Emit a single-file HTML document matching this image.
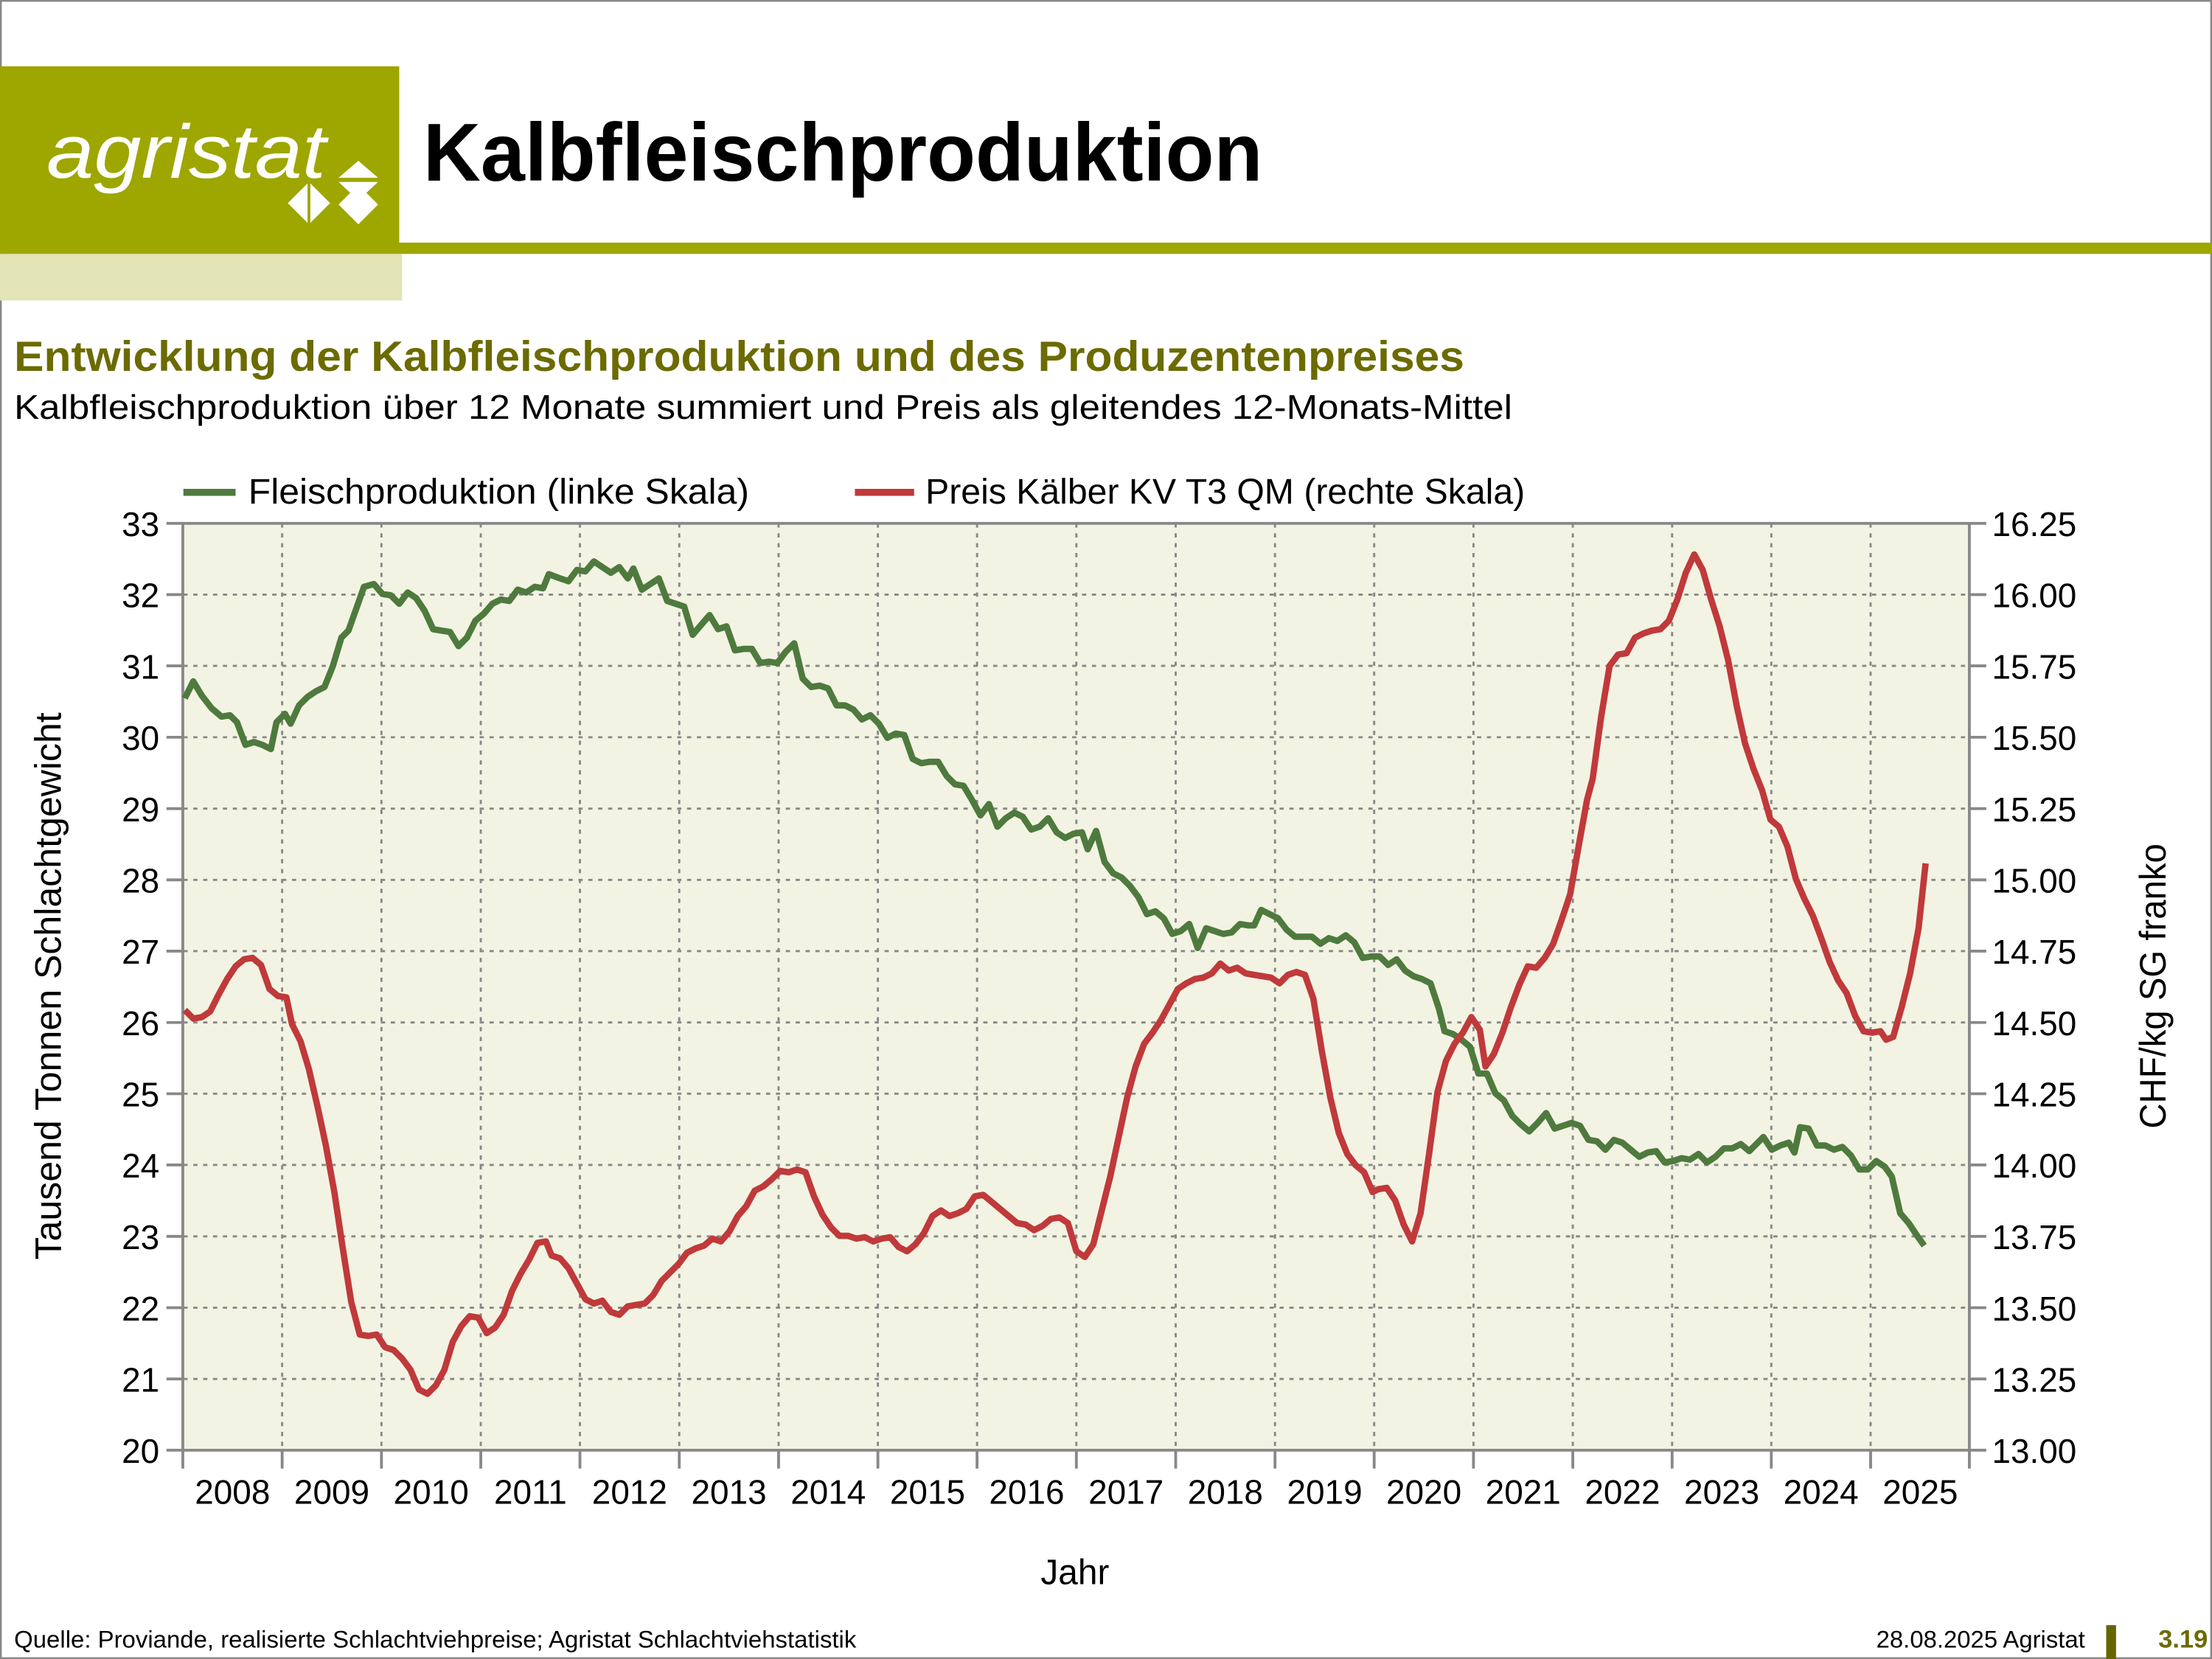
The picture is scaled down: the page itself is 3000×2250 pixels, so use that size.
<!DOCTYPE html>
<html><head><meta charset="utf-8">
<style>
html,body{margin:0;padding:0;background:#fff;}
svg{display:block;}
text{font-family:"Liberation Sans",sans-serif;}
</style></head>
<body>
<svg width="3000" height="2250" viewBox="0 0 1568 1176" xmlns="http://www.w3.org/2000/svg">
<rect x="0" y="0" width="1568" height="1176" fill="#fff"/>
<rect x="0.5" y="0.5" width="1567" height="1175" fill="none" stroke="#888" stroke-width="1.5"/>
<!-- header -->
<rect x="0" y="47" width="283" height="126" fill="#9ea600"/>
<rect x="0" y="172" width="1568" height="8" fill="#9ea600"/>
<rect x="0" y="180" width="285" height="33" fill="#e2e4b6"/>
<text x="33" y="126" font-size="54" font-style="italic" fill="#fff" textLength="198" lengthAdjust="spacingAndGlyphs">agristat</text>
<polygon points="254,114 268,126 240,126" fill="#fff"/>
<polygon points="240,129 268,129 254,142" fill="#fff"/>
<polygon points="204,144 218,130 218,158" fill="#fff"/>
<polygon points="220,130 234,144 220,158" fill="#fff"/>
<polygon points="254,131 268,145 254,159 240,145" fill="#fff"/>
<text x="300" y="128" font-size="58" font-weight="bold" fill="#000" textLength="595" lengthAdjust="spacingAndGlyphs">Kalbfleischproduktion</text>
<text x="10" y="263" font-size="30" font-weight="bold" fill="#6b6b00" textLength="1028" lengthAdjust="spacingAndGlyphs">Entwicklung der Kalbfleischproduktion und des Produzentenpreises</text>
<text x="10" y="297" font-size="24" fill="#000" textLength="1062" lengthAdjust="spacingAndGlyphs">Kalbfleischproduktion über 12 Monate summiert und Preis als gleitendes 12-Monats-Mittel</text>
<!-- legend -->
<line x1="130" y1="349" x2="167" y2="349" stroke="#4e7a3e" stroke-width="5"/>
<text x="176" y="357" font-size="25" textLength="355" lengthAdjust="spacingAndGlyphs">Fleischproduktion (linke Skala)</text>
<line x1="606" y1="349" x2="648" y2="349" stroke="#c0393b" stroke-width="5"/>
<text x="656" y="357" font-size="25" textLength="425" lengthAdjust="spacingAndGlyphs">Preis Kälber KV T3 QM (rechte Skala)</text>
<!-- plot -->
<rect x="129.6" y="371" width="1266.4" height="657" fill="#f3f3e3"/>
<g stroke="#888" stroke-width="1.5" stroke-dasharray="3,4">
<line x1="130" x2="1396" y1="421.5" y2="421.5"/><line x1="130" x2="1396" y1="472" y2="472"/><line x1="130" x2="1396" y1="522.6" y2="522.6"/><line x1="130" x2="1396" y1="573.2" y2="573.2"/><line x1="130" x2="1396" y1="623.7" y2="623.7"/><line x1="130" x2="1396" y1="674.2" y2="674.2"/><line x1="130" x2="1396" y1="724.8" y2="724.8"/><line x1="130" x2="1396" y1="775.3" y2="775.3"/><line x1="130" x2="1396" y1="825.8" y2="825.8"/><line x1="130" x2="1396" y1="876.4" y2="876.4"/><line x1="130" x2="1396" y1="927" y2="927"/><line x1="130" x2="1396" y1="977.5" y2="977.5"/>
<line y1="371" y2="1028" x1="200" x2="200"/><line y1="371" y2="1028" x1="270.4" x2="270.4"/><line y1="371" y2="1028" x1="340.8" x2="340.8"/><line y1="371" y2="1028" x1="411.1" x2="411.1"/><line y1="371" y2="1028" x1="481.5" x2="481.5"/><line y1="371" y2="1028" x1="551.9" x2="551.9"/><line y1="371" y2="1028" x1="622.3" x2="622.3"/><line y1="371" y2="1028" x1="692.6" x2="692.6"/><line y1="371" y2="1028" x1="763" x2="763"/><line y1="371" y2="1028" x1="833.4" x2="833.4"/><line y1="371" y2="1028" x1="903.8" x2="903.8"/><line y1="371" y2="1028" x1="974.1" x2="974.1"/><line y1="371" y2="1028" x1="1044.5" x2="1044.5"/><line y1="371" y2="1028" x1="1114.9" x2="1114.9"/><line y1="371" y2="1028" x1="1185.3" x2="1185.3"/><line y1="371" y2="1028" x1="1255.6" x2="1255.6"/><line y1="371" y2="1028" x1="1326" x2="1326"/>
</g>
<g stroke="#888" stroke-width="2" fill="none">
<rect x="129.6" y="371" width="1266.4" height="657"/>
<path d="M118 371H130M118 421.5H130M118 472H130M118 522.6H130M118 573.2H130M118 623.7H130M118 674.2H130M118 724.8H130M118 775.3H130M118 825.8H130M118 876.4H130M118 927H130M118 977.5H130M118 1028H130"/>
<path d="M1396 371H1408M1396 421.5H1408M1396 472H1408M1396 522.6H1408M1396 573.2H1408M1396 623.7H1408M1396 674.2H1408M1396 724.8H1408M1396 775.3H1408M1396 825.8H1408M1396 876.4H1408M1396 927H1408M1396 977.5H1408M1396 1028H1408"/>
<path d="M129.6 1028V1041M200 1028V1041M270.4 1028V1041M340.8 1028V1041M411.1 1028V1041M481.5 1028V1041M551.9 1028V1041M622.3 1028V1041M692.6 1028V1041M763 1028V1041M833.4 1028V1041M903.8 1028V1041M974.1 1028V1041M1044.5 1028V1041M1114.9 1028V1041M1185.3 1028V1041M1255.6 1028V1041M1326 1028V1041M1396 1028V1041"/>
</g>
<g font-size="24" text-anchor="end">
<text x="113" y="380">33</text><text x="113" y="430.5">32</text><text x="113" y="481">31</text><text x="113" y="531.6">30</text><text x="113" y="582.2">29</text><text x="113" y="632.7">28</text><text x="113" y="683.2">27</text><text x="113" y="733.8">26</text><text x="113" y="784.3">25</text><text x="113" y="834.8">24</text><text x="113" y="885.4">23</text><text x="113" y="936">22</text><text x="113" y="986.5">21</text><text x="113" y="1037">20</text>
</g>
<g font-size="24">
<text x="1412" y="380" textLength="60" lengthAdjust="spacingAndGlyphs">16.25</text><text x="1412" y="430.5" textLength="60" lengthAdjust="spacingAndGlyphs">16.00</text><text x="1412" y="481" textLength="60" lengthAdjust="spacingAndGlyphs">15.75</text><text x="1412" y="531.6" textLength="60" lengthAdjust="spacingAndGlyphs">15.50</text><text x="1412" y="582.2" textLength="60" lengthAdjust="spacingAndGlyphs">15.25</text><text x="1412" y="632.7" textLength="60" lengthAdjust="spacingAndGlyphs">15.00</text><text x="1412" y="683.2" textLength="60" lengthAdjust="spacingAndGlyphs">14.75</text><text x="1412" y="733.8" textLength="60" lengthAdjust="spacingAndGlyphs">14.50</text><text x="1412" y="784.3" textLength="60" lengthAdjust="spacingAndGlyphs">14.25</text><text x="1412" y="834.8" textLength="60" lengthAdjust="spacingAndGlyphs">14.00</text><text x="1412" y="885.4" textLength="60" lengthAdjust="spacingAndGlyphs">13.75</text><text x="1412" y="936" textLength="60" lengthAdjust="spacingAndGlyphs">13.50</text><text x="1412" y="986.5" textLength="60" lengthAdjust="spacingAndGlyphs">13.25</text><text x="1412" y="1037" textLength="60" lengthAdjust="spacingAndGlyphs">13.00</text>
</g>
<g font-size="24" text-anchor="middle">
<text x="164.8" y="1066">2008</text><text x="235.2" y="1066">2009</text><text x="305.6" y="1066">2010</text><text x="376" y="1066">2011</text><text x="446.3" y="1066">2012</text><text x="516.7" y="1066">2013</text><text x="587.1" y="1066">2014</text><text x="657.5" y="1066">2015</text><text x="727.8" y="1066">2016</text><text x="798.2" y="1066">2017</text><text x="868.6" y="1066">2018</text><text x="939" y="1066">2019</text><text x="1009.3" y="1066">2020</text><text x="1079.7" y="1066">2021</text><text x="1150.1" y="1066">2022</text><text x="1220.5" y="1066">2023</text><text x="1290.8" y="1066">2024</text><text x="1361.2" y="1066">2025</text>
<text x="762" y="1123" font-size="25">Jahr</text>
</g>
<text transform="translate(43,893) rotate(-90)" font-size="26" textLength="388" lengthAdjust="spacingAndGlyphs">Tausend Tonnen Schlachtgewicht</text>
<text transform="translate(1535,800) rotate(-90)" font-size="26" textLength="202" lengthAdjust="spacingAndGlyphs">CHF/kg SG franko</text>
<polyline fill="none" stroke="#4e7a3e" stroke-width="4.5" stroke-linejoin="round" points="131,495 137,483 143,493 150,502 157,508 163,507 168,512 174,528 180,526 186,528 192,531 196,512 202,506 206,513 212,500 218,494 224,490 230,487 236,472 242,452 247,447 252,433 258,416 265,414 271,421 277,422 283,428 289,420 295,424 301,433 307,446 313,447 319,448 325,458 331,452 337,440 343,435 349,428 355,425 361,426 367,418 373,420 379,416 385,417 389,407 397,410 403,412 409,404 415,405 421,398 427,402 433,406 439,402 445,410 449,403 455,418 461,414 467,410 473,426 479,428 485,430 491,450 497,443 503,436 509,446 515,444 521,461 527,460 533,460 539,470 545,469 551,470 557,462 563,456 569,481 575,487 581,486 587,488 593,500 599,500 605,503 611,510 617,507 623,513 629,523 635,520 641,521 647,538 653,541 659,540 665,540 671,550 677,556 683,557 689,567 695,578 701,570 707,586 713,580 719,576 725,579 731,588 737,586 743,580 749,590 755,594 761,591 767,590 771,602 777,589 783,611 789,619 795,622 801,628 807,636 813,648 819,646 825,651 831,662 837,660 843,655 849,672 855,658 861,660 867,662 873,661 879,655 885,656 889,656 894,645 900,648 906,651 912,659 918,664 924,664 930,664 936,669 942,665 948,667 954,663 960,668 966,679 972,678 978,678 984,684 990,680 996,688 1002,692 1008,694 1014,697 1020,715 1024,731 1030,733 1036,737 1042,742 1048,761 1054,761 1060,775 1066,780 1072,791 1078,797 1084,802 1090,796 1096,789 1102,800 1108,798 1114,796 1120,798 1126,808 1132,809 1138,815 1144,808 1150,810 1156,815 1162,820 1168,817 1174,816 1180,824 1186,823 1192,821 1198,822 1204,818 1210,824 1216,820 1222,814 1228,814 1234,811 1240,816 1246,810 1250,806 1256,815 1262,812 1268,810 1272,817 1276,799 1282,800 1288,812 1294,812 1300,815 1306,813 1312,819 1318,829 1324,829 1330,823 1336,827 1341,834 1347,860 1353,867 1359,876 1364,883"/>
<polyline fill="none" stroke="#c0393b" stroke-width="4.5" stroke-linejoin="round" points="131,716 137,722 143,721 149,717 155,705 161,694 167,685 173,680 179,679 185,684 191,701 197,706 203,707 207,726 213,738 219,758 225,784 231,812 237,845 243,885 249,923 255,946 261,947 267,946 273,955 279,957 285,963 291,971 297,985 303,988 309,982 315,971 321,951 327,940 333,933 339,934 345,945 351,941 357,932 363,915 369,903 375,893 381,881 387,880 391,890 397,892 403,899 409,910 415,921 421,924 427,922 433,930 439,932 445,926 451,925 457,924 463,918 469,908 475,902 481,896 487,888 493,885 499,883 505,878 511,880 517,873 523,862 529,855 535,844 541,841 547,836 553,830 559,831 565,829 571,831 577,848 583,861 589,870 595,876 601,876 607,878 613,877 619,880 625,878 631,877 637,884 643,887 649,882 655,874 661,862 667,858 673,862 679,860 685,857 691,848 697,847 703,852 709,857 715,862 721,867 727,868 733,872 739,869 745,864 751,863 757,867 763,887 769,891 775,882 781,858 787,834 793,806 799,778 805,756 811,740 817,732 823,723 829,712 835,701 841,697 847,694 853,693 859,690 865,683 871,688 877,686 883,690 889,691 895,692 901,693 907,697 913,691 919,689 925,691 931,708 937,745 943,778 949,803 955,818 961,826 967,831 973,845 977,843 983,842 989,851 995,868 1001,880 1007,860 1013,818 1019,774 1025,752 1031,740 1037,732 1043,721 1049,730 1053,756 1059,747 1065,732 1071,714 1077,698 1083,685 1089,686 1095,679 1101,669 1107,652 1113,634 1119,600 1125,567 1129,552 1135,508 1141,472 1147,464 1153,463 1159,452 1165,449 1171,447 1177,446 1183,440 1189,425 1195,406 1201,393 1207,404 1213,425 1219,444 1225,468 1231,500 1237,527 1243,545 1249,560 1255,581 1261,586 1267,600 1273,623 1279,637 1285,649 1291,665 1297,682 1303,695 1309,704 1315,720 1321,731 1327,732 1333,731 1337,737 1342,735 1348,714 1354,690 1360,658 1365,612"/>
<!-- footer -->
<text x="10" y="1168" font-size="17" textLength="597" lengthAdjust="spacingAndGlyphs">Quelle: Proviande, realisierte Schlachtviehpreise; Agristat Schlachtviehstatistik</text>
<text x="1478" y="1168" font-size="17" text-anchor="end" textLength="148" lengthAdjust="spacingAndGlyphs">28.08.2025 Agristat</text>
<rect x="1493" y="1152" width="7" height="24" fill="#666600"/>
<text x="1565" y="1168" font-size="18" font-weight="bold" fill="#6b6b00" text-anchor="end">3.19</text>
</svg>
</body></html>
